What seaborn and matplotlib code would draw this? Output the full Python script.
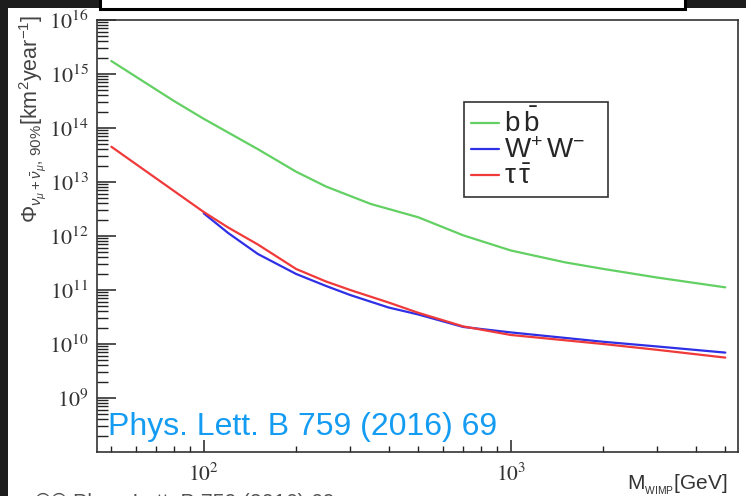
import numpy as np
import pandas as pd
import matplotlib
matplotlib.use("Agg")
import matplotlib.pyplot as plt
import matplotlib.ticker as mticker
from matplotlib.patches import Rectangle
from matplotlib.font_manager import FontProperties
import seaborn as sns

# ---------------- data ----------------
mass_bb = [50, 80, 100, 150, 200, 250, 350, 500, 700, 1000, 1500, 2000, 3000, 5000]
flux_bb = [1.74e15, 3.16e14, 1.48e14, 4.06e13, 1.55e13, 8.26e12, 3.92e12, 2.22e12,
           1.03e12, 5.4e11, 3.26e11, 2.46e11, 1.70e11, 1.12e11]

mass_ww = [100, 120, 150, 200, 250, 300, 400, 500, 700, 1000, 2000, 3000, 5000]
flux_ww = [2.63e12, 1.14e12, 4.65e11, 1.98e11, 1.19e11, 8.07e10, 4.74e10, 3.52e10,
           2.07e10, 1.64e10, 1.10e10, 9.0e9, 6.93e9]

mass_tt = [50, 100, 120, 150, 200, 250, 300, 400, 500, 700, 1000, 2000, 3000, 5000]
flux_tt = [4.5e13, 2.78e12, 1.44e12, 6.97e11, 2.45e11, 1.44e11, 1.0e11, 5.87e10,
           3.78e10, 2.12e10, 1.47e10, 1.0e10, 7.8e9, 5.6e9]

channels = ["bb", "WW", "tautau"]
legend_labels = [r"$\mathrm{b\,\bar{b}}$", r"$\mathrm{W^{+}\,W^{-}}$", r"$\mathrm{\tau\,\bar{\tau}}$"]
colors = ["#62d062", "#2f2fe6", "#f03a3a"]
ytick_exps = [9, 10, 11, 12, 13, 14, 15, 16]
xtick_exps = [2, 3]
ref_text = "Phys. Lett. B 759 (2016) 69"

df = pd.concat([
    pd.DataFrame({"M": mass_bb, "flux": flux_bb, "channel": "bb"}),
    pd.DataFrame({"M": mass_ww, "flux": flux_ww, "channel": "WW"}),
    pd.DataFrame({"M": mass_tt, "flux": flux_tt, "channel": "tautau"}),
], ignore_index=True)

# ---------------- style ----------------
sns.set_theme(style="ticks")
plt.rcParams["font.family"] = ["Liberation Sans", "DejaVu Sans"]
plt.rcParams["mathtext.fontset"] = "stix"
plt.rcParams["mathtext.rm"] = "Liberation Sans"
plt.rcParams["mathtext.it"] = "Liberation Sans:italic"
plt.rcParams["mathtext.bf"] = "Liberation Sans:bold"
plt.rcParams["mathtext.sf"] = "Liberation Sans"

W, H = 746, 496
fig = plt.figure(figsize=(W / 100, H / 100), dpi=100, facecolor="#1d1d1d")

# white panel and clipped caption box at the top
fig.patches.append(Rectangle((8 / W, 0), 1 - 8 / W, 1 - 8 / H, transform=fig.transFigure,
                             facecolor="white", edgecolor="none", zorder=-2))
fig.patches.append(Rectangle((100 / W, 1 - 9 / H), (685 - 100) / W, 20 / H, transform=fig.transFigure,
                             facecolor="white", edgecolor="black", linewidth=2.2, zorder=-1))

left, right, top, bottom = 97.3, 738, 20, 452
ax = fig.add_axes([left / W, 1 - bottom / H, (right - left) / W, (bottom - top) / H])
ax.set_facecolor("white")

sns.lineplot(data=df, x="M", y="flux", hue="channel", hue_order=channels,
             palette=colors, estimator=None, sort=True, linewidth=1.6,
             legend=False, ax=ax)

ax.set_xscale("log")
ax.set_yscale("log")
ax.set_xlim(45, 5500)
ax.set_ylim(1e8, 1e16)

ax.set_yticks([10.0 ** e for e in ytick_exps])
ax.set_yticklabels([r"$10^{%d}$" % e for e in ytick_exps])
ax.set_xticks([10.0 ** e for e in xtick_exps])
ax.set_xticklabels([r"$10^{%d}$" % e for e in xtick_exps])
ax.yaxis.set_minor_locator(mticker.LogLocator(base=10, subs=np.arange(2, 10), numticks=100))
ax.xaxis.set_minor_locator(mticker.LogLocator(base=10, subs=np.arange(2, 10), numticks=100))
ax.yaxis.set_minor_formatter(mticker.NullFormatter())
ax.xaxis.set_minor_formatter(mticker.NullFormatter())

ax.tick_params(axis="y", which="major", direction="in", length=14, width=1.1,
               color="#222222", labelsize=16, labelcolor="#333333", pad=6)
ax.tick_params(axis="y", which="minor", direction="in", length=8, width=1.0, color="#222222")
ax.tick_params(axis="x", which="major", direction="in", length=8.5, width=1.1,
               color="#222222", labelsize=15.5, labelcolor="#333333", pad=8)
ax.tick_params(axis="x", which="minor", direction="in", length=4.5, width=1.0, color="#222222")
ax.tick_params(top=False, right=False, which="both")

for s in ax.spines.values():
    s.set_color("#333333")
    s.set_linewidth(1.2)

ax.set_ylabel(r"$\Phi_{\nu_{\mu}+\bar{\nu}_{\mu},\,90\%}$[km$^{2}$year$^{-1}$]",
              fontsize=15.5, color="#444444", math_fontfamily="custom")
ax.yaxis.set_label_coords(-0.077, 0.772)

ax.set_xlabel(r"M$_{{}_{\mathrm{WIMP}}}$[GeV]", fontsize=15, color="#333333",
              math_fontfamily="custom")
ax.xaxis.set_label_coords(0.983, -0.086)
ax.xaxis.label.set_ha("right")
ax.xaxis.label.set_va("baseline")

ax.text(0.0167, 0.0394, ref_text, transform=ax.transAxes, fontsize=23,
        color="#149cf2", ha="left", va="baseline", zorder=5)

leg_prop = FontProperties(family="Liberation Sans", size=20, math_fontfamily="custom")
leg = ax.legend(handles=ax.lines[:3], labels=legend_labels, loc="upper left",
                bbox_to_anchor=(0.572, 0.597, 0.225, 0.213), mode="expand",
                borderaxespad=0, prop=leg_prop,
                frameon=True, fancybox=False, framealpha=1, edgecolor="#333333",
                handlelength=1.0, handletextpad=0.2, labelspacing=0.0,
                borderpad=0.25)
leg.get_frame().set_linewidth(1.2)
leg.set_zorder(6)

fig.text(35 / W, 1 - 493 / H, "\u00a9\u00a9 " + ref_text, fontsize=15.5, color="#555555",
         ha="left", va="top")

fig.savefig("out.png", dpi=100, facecolor=fig.get_facecolor())
